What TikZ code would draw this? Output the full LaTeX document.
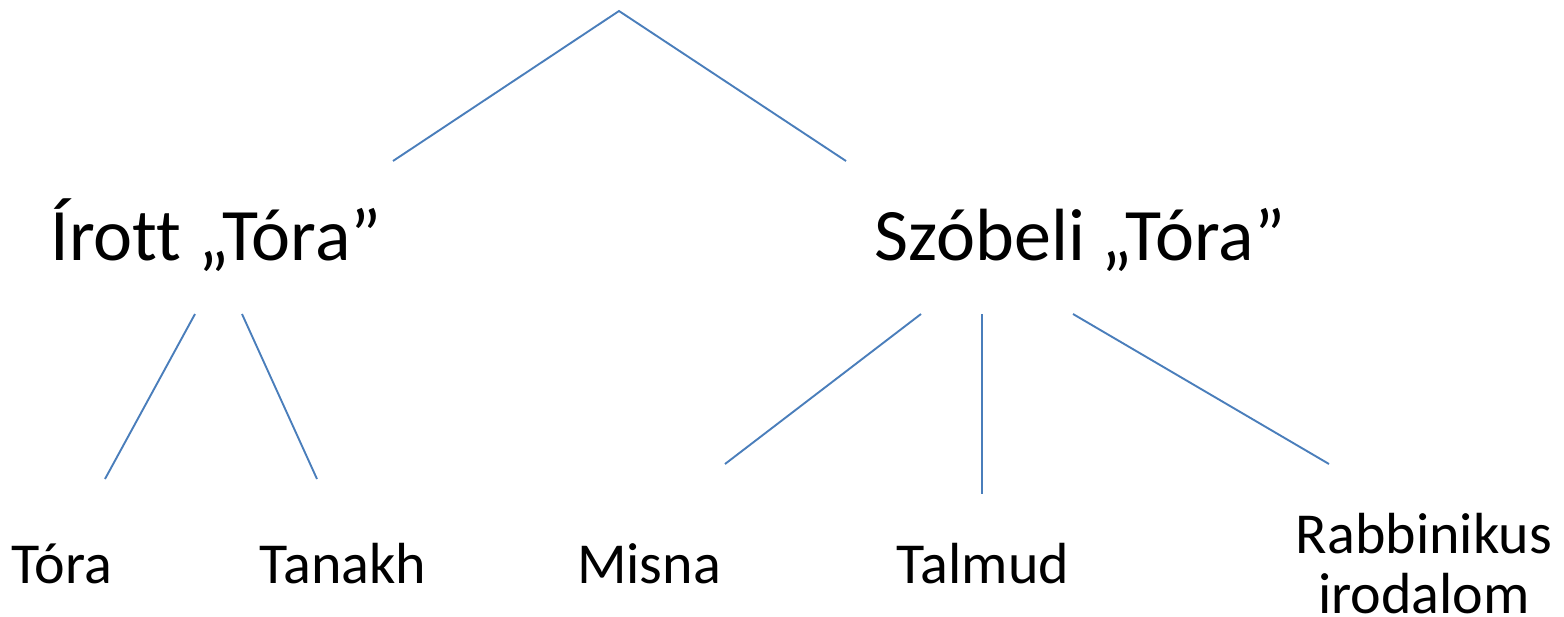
\documentclass[tikz,border=0pt]{standalone}
\usepackage{fontspec}
\setmainfont[Ligatures=NoCommon]{Carlito}
\definecolor{linkblue}{HTML}{4A7EBB}
\tikzset{
  link/.style={draw=linkblue, line width=1.9pt},
  bigtxt/.style={anchor=base, inner sep=0pt, font=\fontsize{74}{88}\selectfont},
  smalltxt/.style={anchor=base, inner sep=0pt, font=\fontsize{58}{60}\selectfont},
}
\begin{document}
\begin{tikzpicture}[x=1pt,y=-1pt]
\useasboundingbox (0,0) rectangle (1564,616);
% text nodes
\node[bigtxt] (irott) at (216,260) {Írott „Tóra”};
\node[bigtxt] (szobeli) at (1080,260) {Szóbeli „Tóra”};
\node[smalltxt] (tora) at (62,583) {Tóra};
\node[smalltxt] (tanakh) at (343,583) {Tanakh};
\node[smalltxt] (misna) at (649,583) {Misna};
\node[smalltxt] (talmud) at (983,583) {Talmud};
\node[smalltxt, align=center] (rabbi) at (1424,613) {Rabbinikus\\irodalom};
% connector end points
\coordinate (root) at (619,11);
\coordinate (irottTop) at (393,161);
\coordinate (szobeliTop) at (846,161);
\coordinate (irottL) at (195,314);
\coordinate (irottR) at (242,314);
\coordinate (toraTop) at (105,479);
\coordinate (tanakhTop) at (317,479);
\coordinate (szobeliL) at (921,314);
\coordinate (szobeliM) at (982,314);
\coordinate (szobeliR) at (1073,314);
\coordinate (misnaTop) at (725,464);
\coordinate (talmudTop) at (982,494);
\coordinate (rabbiTop) at (1329,464);
% connectors
\draw[link] (irottTop) -- (root) -- (szobeliTop);
\draw[link] (irottL) -- (toraTop);
\draw[link] (irottR) -- (tanakhTop);
\draw[link] (szobeliL) -- (misnaTop);
\draw[link] (szobeliM) -- (talmudTop);
\draw[link] (szobeliR) -- (rabbiTop);
\end{tikzpicture}
\end{document}
